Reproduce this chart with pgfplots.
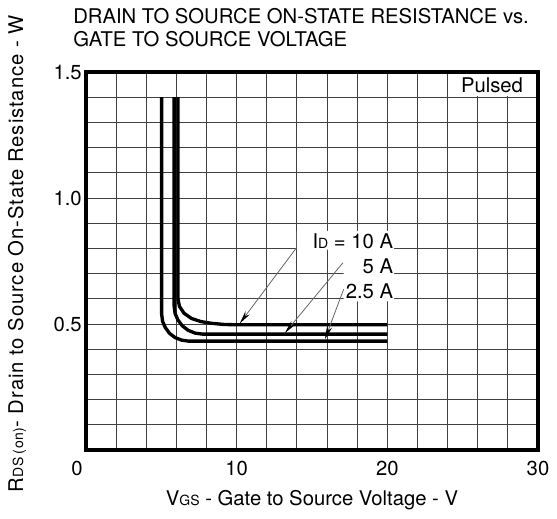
\documentclass[border=0pt]{standalone}
\usepackage{fontspec}
\setmainfont{TeX Gyre Heros}
\newfontfamily\ylfont[LetterSpace=4.5]{TeX Gyre Heros}
\usepackage{pgfplots}
\pgfplotsset{compat=1.18}
\usetikzlibrary{arrows.meta}
\newcommand{\sub}[1]{{\fontsize{10.5}{10}\selectfont #1}}

\begin{document}
\begin{tikzpicture}[font=\fontsize{15.2}{18}\selectfont]
\begin{axis}[
  scale only axis,
  width=339pt, height=283.5pt,
  xmin=0, xmax=30, ymin=0, ymax=1.5,
  xtick={0,10,20,30},
  xticklabels={\llap{0\kern2.6pt},10,20,30},
  minor xtick={2,4,6,8,12,14,16,18,22,24,26,28},
  ytick={0.5,1.0,1.5},
  yticklabels={0.5,1.0,1.5},
  minor ytick={0.1,0.2,0.3,0.4,0.6,0.7,0.8,0.9,1.1,1.2,1.3,1.4},
  grid=both,
  grid style={black!75, line width=0.75pt},
  major tick length=0pt, minor tick length=0pt,
  axis line style={line width=3pt, line cap=rect},
  xticklabel style={inner sep=0pt, yshift=-8pt},
  yticklabel style={inner sep=0pt, xshift=-3pt},
  xlabel={V\sub{GS} - Gate to Source Voltage - V},
  ylabel={\ylfont R\sub{DS}\,\sub{(on)}- Drain to Source On-State Resistance - W},
  xlabel style={at={(axis description cs:0.5,-0.1455)}, anchor=base, inner sep=0pt},
  ylabel style={at={(axis description cs:-0.1394,0.519)}, anchor=base, inner sep=0pt},
  clip=false,
]
% white patches behind the labels
\fill[white] (axis cs:14.0,0.795) -- (axis cs:14.0,0.87) -- (axis cs:20.45,0.87)
  -- (axis cs:20.45,0.59) -- (axis cs:17.1,0.59) -- (axis cs:17.1,0.795) -- cycle;
\fill[white] (axis cs:24.13,1.405) rectangle (axis cs:29.87,1.493);

% ID = 10 A
\addplot[line width=2.5pt] coordinates {
  (6.1,1.40) (6.1,0.60) (6.2,0.57) (6.5,0.543) (7.0,0.522) (7.6,0.51)
  (8.3,0.503) (9.2,0.498) (10,0.497) (20,0.497)
};
% ID = 5 A
\addplot[line width=2.5pt] coordinates {
  (5.85,1.40) (5.85,0.571) (5.91,0.542) (6.10,0.516) (6.39,0.493)
  (6.78,0.475) (7.23,0.464) (7.71,0.46) (20,0.46)
};
% ID = 2.5 A
\addplot[line width=2.5pt] coordinates {
  (5.02,1.40) (5.02,0.539) (5.08,0.511) (5.26,0.486) (5.54,0.463)
  (5.915,0.446) (6.35,0.436) (6.81,0.432) (20,0.432)
};

\node[anchor=base east, inner sep=0pt] at (axis cs:20.4,0.8) {I\sub{D} = 10 A};
\node[anchor=base east, inner sep=0pt] at (axis cs:20.4,0.7) {5 A};
\node[anchor=base east, inner sep=0pt] at (axis cs:20.4,0.6) {2.5 A};
\draw[black!60, line width=0.6pt, -{Stealth[length=10pt,width=4pt,black]}]
  (axis cs:13.94,0.800) -- (axis cs:10.2,0.502);
\draw[black!60, line width=0.6pt, -{Stealth[length=10pt,width=4pt,black]}]
  (axis cs:17.05,0.743) -- (axis cs:13.2,0.464);
\draw[black!60, line width=0.6pt, -{Stealth[length=10pt,width=4pt,black]}]
  (axis cs:17.1,0.638) -- (axis cs:15.86,0.44);

\node[anchor=base east, inner sep=0pt] at (axis cs:29.02,1.418) {Pulsed};

\node[anchor=base west, inner sep=0pt] at (rel axis cs:-0.0288,1.127)
  {DRAIN TO SOURCE ON-STATE RESISTANCE vs.};
\node[anchor=base west, inner sep=0pt] at (rel axis cs:-0.0288,1.067)
  {GATE TO SOURCE VOLTAGE};

\coordinate (bbsw) at (rel axis cs:-0.1903,-0.1825);
\coordinate (bbne) at (rel axis cs:1.0420,1.1905);
\end{axis}
\pgfresetboundingbox
\path[use as bounding box] (bbsw) rectangle (bbne);
\end{tikzpicture}
\end{document}
